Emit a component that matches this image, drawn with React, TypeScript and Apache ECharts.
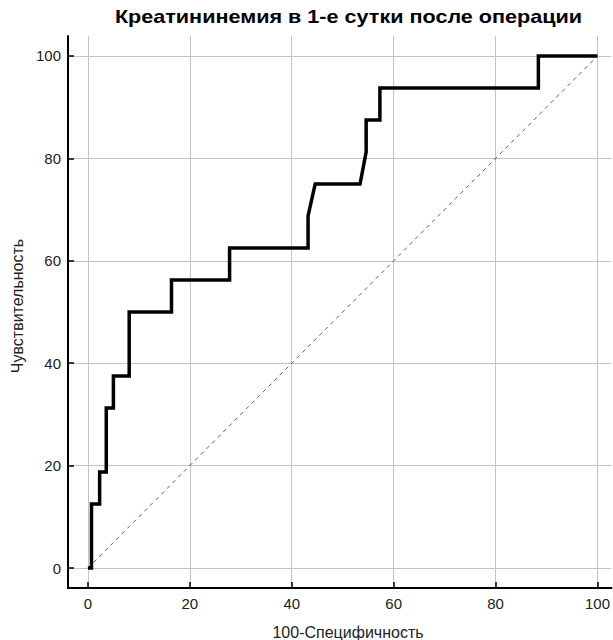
import React, { useEffect, useRef } from "react";
import * as echarts from "echarts";

const fpr = [0, 0.7, 0.7, 2.3, 2.3, 3.6, 3.6, 5.0, 5.0, 8.1, 8.1, 16.4, 16.4, 27.8, 27.8, 43.2, 43.2, 44.6, 53.4, 54.6, 54.6, 57.3, 57.3, 88.4, 88.4, 100];
const tpr = [0, 0, 12.5, 12.5, 18.75, 18.75, 31.25, 31.25, 37.5, 37.5, 50, 50, 56.25, 56.25, 62.5, 62.5, 68.75, 75, 75, 81.25, 87.5, 87.5, 93.75, 93.75, 100, 100];
const tickValues = [0, 20, 40, 60, 80, 100];
const diagonal = [[0, 0], [100, 100]];
const titleText = "Креатининемия в 1-е сутки после операции";
const xName = "100-Специфичность";
const yName = "Чувствительность";

export default function App() {
  const ref = useRef<HTMLDivElement>(null);
  useEffect(() => {
    if (!ref.current) return;
    const chart = echarts.init(ref.current, null, { renderer: "svg" });
    const font = "'Liberation Sans', Arial, Helvetica, sans-serif";
    const axisCommon = {
      type: "value",
      axisLine: { show: true, onZero: false, lineStyle: { color: "#000", width: 2 } },
      axisTick: { show: true, inside: true, length: 6, customValues: tickValues, lineStyle: { color: "#000", width: 1.5 } },
      axisLabel: { customValues: tickValues, color: "#222", fontSize: 15, fontFamily: font },
      splitLine: { show: true, lineStyle: { color: "#c4c4c4", width: 1 } },
    };
    chart.setOption({
      animation: false,
      backgroundColor: "#fff",
      grid: { left: 68, right: 0, top: 36, bottom: 52 },
      xAxis: {
        ...axisCommon,
        min: -3.91,
        max: 102.74,
        axisLabel: { ...axisCommon.axisLabel, margin: 8 },
      },
      yAxis: {
        ...axisCommon,
        min: -3.9,
        max: 103.9,
        axisLabel: { ...axisCommon.axisLabel, margin: 7 },
      },
      graphic: [
        {
          type: "text",
          x: 348.5,
          y: 17,
          scaleX: 1.2,
          style: { text: titleText, fontSize: 18, fontWeight: "bold", fontFamily: font, fill: "#000", align: "center", verticalAlign: "middle" },
        },
        {
          type: "text",
          x: 348,
          y: 632,
          style: { text: xName, fontSize: 16, fontFamily: font, fill: "#222", align: "center", verticalAlign: "middle" },
        },
        {
          type: "text",
          x: 17,
          y: 306,
          rotation: Math.PI / 2,
          style: { text: yName, fontSize: 16, fontFamily: font, fill: "#222", align: "center", verticalAlign: "middle" },
        },
      ],
      series: [
        {
          type: "line",
          data: diagonal,
          symbol: "none",
          silent: true,
          lineStyle: { color: "#333", width: 0.8, type: [4, 4] },
        },
        {
          type: "line",
          data: fpr.map((x, i) => [x, tpr[i]]),
          symbol: "none",
          silent: true,
          lineStyle: { color: "#000", width: 3.5, join: "miter" },
        },
      ],
    });
    return () => chart.dispose();
  }, []);
  return <div ref={ref} style={{ position: "fixed", left: 0, top: 0, width: 613, height: 640 }} />;
}
